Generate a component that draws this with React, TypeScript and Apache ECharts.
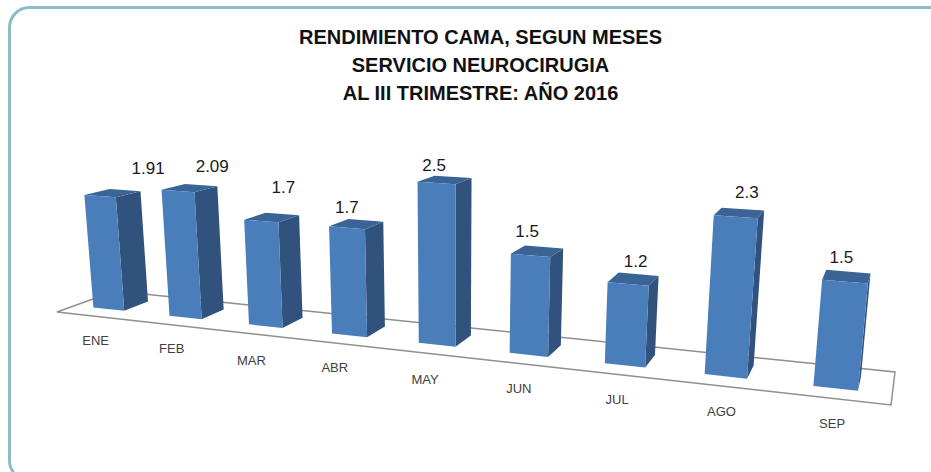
import React, { useEffect, useRef } from "react";
import * as echarts from "echarts";

const CATEGORIES = ["ENE", "FEB", "MAR", "ABR", "MAY", "JUN", "JUL", "AGO", "SEP"];
const VALUES = [1.91, 2.09, 1.7, 1.7, 2.5, 1.5, 1.2, 2.3, 1.5];
const VALUE_LABELS = ["1.91", "2.09", "1.7", "1.7", "2.5", "1.5", "1.2", "2.3", "1.5"];
const TITLE_LINES = ["RENDIMIENTO CAMA, SEGUN MESES", "SERVICIO NEUROCIRUGIA", "AL III TRIMESTRE: AÑO 2016"];

// hand-placed label nudges: value labels from the bar's back top edge, month labels from the floor edge
const LABEL_NUDGE_X = [23, 11, 1, -19, -19, -17, -3, 4, -7];
const LABEL_NUDGE_Y = [-22, -19, -27, -13, -11, -15, -13, -17, -14];
const MONTH_NUDGE_X = [3, 1, -1, -3, -2, -2, -2, -1, 1];
const MONTH_NUDGE_Y = [25, 24, 27, 24, 26, 25, 25, 25, 25];
const BAR_SLIDE = [0, 0, 0, 0, 0, 0, 0, 0, 0.004];

// perspective floor: front-left, front-right, back-right, back-left
const FLOOR = [[57, 312], [891, 405], [895, 372], [115, 291]];
const VANISH = [453, 4780];

const GRID = { left: 0, top: 100, width: 900, height: 180 };

function makeHomography(q: number[][]) {
  const [[x0, y0], [x1, y1], [x2, y2], [x3, y3]] = q;
  const sx = x0 - x1 + x2 - x3;
  const sy = y0 - y1 + y2 - y3;
  const dx1 = x1 - x2, dx2 = x3 - x2, dy1 = y1 - y2, dy2 = y3 - y2;
  const det = dx1 * dy2 - dx2 * dy1;
  const g = (sx * dy2 - dx2 * sy) / det;
  const h = (dx1 * sy - sx * dy1) / det;
  const a = x1 - x0 + g * x1, b = x3 - x0 + h * x3;
  const d = y1 - y0 + g * y1, e = y3 - y0 + h * y3;
  return (u: number, v: number) => {
    const w = 1 + g * u + h * v;
    return { x: (a * u + b * v + x0) / w, y: (d * u + e * v + y0) / w, w };
  };
}

const floorAt = makeHomography(FLOOR);

function raised(u: number, v: number, height: number) {
  const p = floorAt(u, v);
  const dx = p.x - VANISH[0], dy = p.y - VANISH[1];
  const len = Math.hypot(dx, dy);
  const px = height / p.w;
  return [p.x + (dx / len) * px, p.y + (dy / len) * px];
}

const DEPTH_FRONT = 0.3;
const DEPTH_BACK = 0.73;
const BAR_WIDTH_BANDS = 0.41;
const BAR_SHIFT_BANDS = -0.05;
const SANS = '"Liberation Sans", Arial, sans-serif';

function renderBar(params: any, api: any) {
  const idx = params.dataIndex;
  const i = api.value(0);
  const value = api.value(1);
  const base = api.coord([i, 0]);
  const top = api.coord([i, value]);
  const band = api.size([1, 0])[0];
  const uc = (base[0] - GRID.left) / GRID.width;
  const bw = band / GRID.width;
  const slide = BAR_SLIDE[idx];
  const u0 = uc + slide + (BAR_SHIFT_BANDS - BAR_WIDTH_BANDS / 2) * bw;
  const u1 = uc + slide + (BAR_SHIFT_BANDS + BAR_WIDTH_BANDS / 2) * bw;
  const h = base[1] - top[1];

  const fbl = raised(u0, DEPTH_FRONT, 0);
  const fbr = raised(u1, DEPTH_FRONT, 0);
  const ftl = raised(u0, DEPTH_FRONT, h);
  const ftr = raised(u1, DEPTH_FRONT, h);
  const bbr = raised(u1, DEPTH_BACK, 0);
  const btr = raised(u1, DEPTH_BACK, h);
  const btl = raised(u0, DEPTH_BACK, h);

  const labelAnchor = [(btl[0] + btr[0]) / 2, (btl[1] + btr[1]) / 2];
  const catAnchor = floorAt(uc - 0.03 * bw, 0);

  return {
    type: "group",
    children: [
      { type: "polygon", shape: { points: [fbr, bbr, btr, ftr] }, style: { fill: "#30527d" } },
      { type: "polygon", shape: { points: [ftl, ftr, btr, btl] }, style: { fill: "#3a6496" } },
      { type: "polygon", shape: { points: [fbl, fbr, ftr, ftl] }, style: { fill: "#4a7ebb" } },
      {
        type: "text",
        x: labelAnchor[0] + LABEL_NUDGE_X[idx],
        y: labelAnchor[1] + LABEL_NUDGE_Y[idx],
        style: { text: VALUE_LABELS[idx], fill: "#1a1a1a", font: `17px ${SANS}`, align: "center", verticalAlign: "middle" },
      },
      {
        type: "text",
        x: catAnchor.x + MONTH_NUDGE_X[idx],
        y: catAnchor.y + MONTH_NUDGE_Y[idx],
        style: { text: CATEGORIES[idx], fill: "#404040", font: `13px ${SANS}`, align: "center", verticalAlign: "middle" },
      },
    ],
  };
}

export default function App() {
  const ref = useRef<HTMLDivElement>(null);
  useEffect(() => {
    const chart = echarts.init(ref.current!, undefined, { renderer: "svg" });
    chart.setOption({
      animation: false,
      backgroundColor: "#ffffff",
      title: {
        text: TITLE_LINES.join("\n"),
        left: 475.5,
        top: 18,
        textAlign: "center",
        textStyle: { fontFamily: SANS, fontSize: 20, fontWeight: "bold", color: "#111111", lineHeight: 28 },
      },
      grid: { ...GRID },
      xAxis: { type: "category", data: CATEGORIES, show: false },
      yAxis: { type: "value", min: 0, max: 3, show: false },
      graphic: [
        {
          type: "rect",
          z: 0,
          shape: { x: 9.5, y: 7.5, width: 940, height: 473, r: 20 },
          style: { fill: "none", stroke: "#8bbccb", lineWidth: 3 },
        },
        {
          type: "polygon",
          z: 0,
          shape: { points: FLOOR },
          style: { fill: "#ffffff", stroke: "#8f8f8f", lineWidth: 1.5 },
        },
      ],
      series: [
        {
          type: "custom",
          renderItem: renderBar,
          clip: false,
          encode: { x: 0, y: 1 },
          data: VALUES.map((v, i) => [i, v]),
        },
      ],
    });
    return () => chart.dispose();
  }, []);
  return <div ref={ref} style={{ position: "fixed", left: 0, top: 0, width: 931, height: 472 }} />;
}
